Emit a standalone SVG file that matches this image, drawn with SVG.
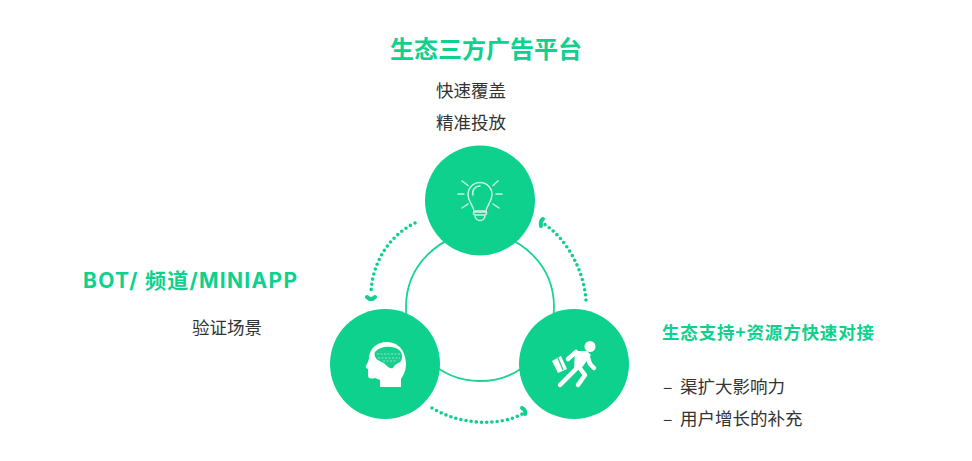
<svg xmlns="http://www.w3.org/2000/svg" width="972" height="461" viewBox="0 0 972 461">
<style>
.t{font-family:"Noto Sans CJK SC","Noto Sans",sans-serif}
.l{font-family:Inter,"Noto Sans CJK SC",sans-serif}
.g{fill:#0dd18d;font-weight:700}
.b{fill:#333;font-size:17.500px}
.c{fill:#0dd18d}
.i{fill:none;stroke:#c9f5e4;stroke-width:1.500;stroke-linecap:round;stroke-linejoin:round}
.d{fill:none;stroke:#0dd18d;stroke-width:3.600;stroke-linecap:round;stroke-dasharray:0 5.200}
.h{fill:none;stroke:#0dd18d;stroke-width:4;stroke-linecap:round;stroke-linejoin:round}
</style>
<rect width="972" height="461" fill="#fff"/>
<g id="connectors">
<circle cx="480" cy="307" r="74" fill="none" stroke="#19d492" stroke-width="1.800"/>
<path class="d" d="M415 223C390 235 372 262 371 293"/>
<path class="h" d="M367 297Q371 301 375 297"/>
<path class="d" d="M586 300C584 270 566 238 544 224"/>
<path class="h" d="M543 219Q540 221 541 226"/>
<path class="d" d="M432 408C460 425 500 427 524 413"/>
<path class="h" d="M522 408Q526 410 525 414"/>
</g>
<g id="node-top">
<circle class="c" cx="480" cy="200.500" r="55"/>
<g class="i">
<path d="M474 212C474 205 468 203 468 194.500A12 12 0 0 1 492 194.500C492 203 486 205 486 212Z"/>
<path d="M473 195A7 7 0 0 1 480 186"/>
<rect x="473.500" y="211" width="13" height="4" rx="2"/>
<path d="M475 216C476 222 484 222 485 216"/>
<path d="M458 194H464M496 194H502M462 181L468 185.500M498 181L493 185.500M462 208L468 204M499 208L493 204"/>
</g>
<text class="t g" x="486" y="58" font-size="24" text-anchor="middle">生态三方广告平台</text>
<text class="t b" x="471" y="97" text-anchor="middle">快速覆盖</text>
<text class="t b" x="471" y="129" text-anchor="middle">精准投放</text>
</g>
<g id="node-left">
<circle class="c" cx="385" cy="364" r="55"/>
<path fill="#fff" d="M380 387H401V379C406 372 407 365 405 357C403 347 395 342 387 342C376 342 370 349 369 357C369 360 368 362 366 366C365 368 367 368 368 369V375C368 379 371 379 375 378L380 380Z"/>
<path fill="#18cf90" d="M375 352C380 346 393 345 399 350C403 353 403 360 400 362C397 364 395 364 393 368C390 369 388 367 386 365C383 362 381 362 378 360C375 359 374 354 375 352Z"/>
<path fill="none" stroke="#8fe8c6" stroke-width="1" stroke-dasharray="2 1.500" d="M377 354H401M378 358H400M383 361H397"/>
<text class="l g" x="83" y="288" font-size="21" textLength="214">BOT/ 频道/MINIAPP</text>
<text class="t b" x="227" y="334" text-anchor="middle">验证场景</text>
</g>
<g id="node-right">
<circle class="c" cx="574" cy="364" r="55"/>
<circle cx="590" cy="346.500" r="5.500" fill="#fff"/>
<path fill="#fff" d="M575 351H587L591 355L581 369L574 369Z"/>
<path fill="none" stroke="#fff" stroke-width="4.500" stroke-linecap="round" stroke-linejoin="round" d="M568 359L576 352M578 367L560 385M579 367L585 375L578 385M587 355L590 364L594 368"/>
<path fill="#fff" d="M552 361L561 356L567 369L558 373Z"/>
<path stroke="#19d492" stroke-width="1.200" d="M558 358L563 370"/>
<text class="t g" x="662" y="339" font-size="17.500" textLength="212">生态支持+资源方快速对接</text>
<text class="t b" x="663" y="393">–</text>
<text class="t b" x="680" y="393">渠扩大影响力</text>
<text class="t b" x="663" y="425">–</text>
<text class="t b" x="680" y="425">用户增长的补充</text>
</g>
</svg>
